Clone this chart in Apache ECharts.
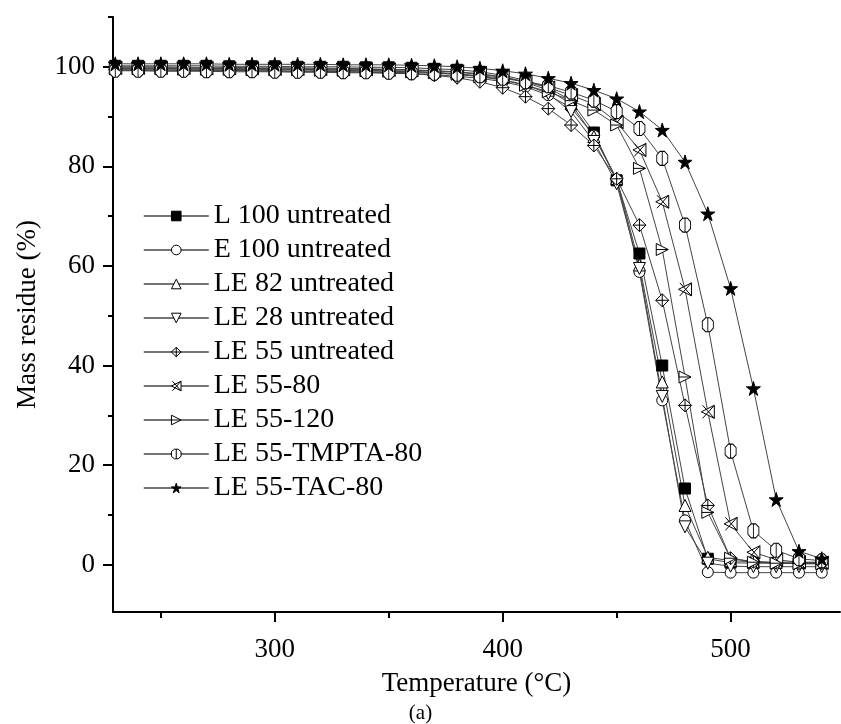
<!DOCTYPE html>
<html><head><meta charset="utf-8">
<script src="https://cdn.jsdelivr.net/npm/echarts@6/dist/echarts.min.js"></script>
<style>html,body{margin:0;padding:0;background:#fff;}#c{width:841px;height:724px;}</style>
</head><body><div id="c"></div>
<script>
const temps = [230,240,250,260,270,280,290,300,310,320,330,340,350,360,370,380,390,400,410,420,430,440,450,460,470,480,490,500,510,520,530,540];
const seriesNames = ['L 100 untreated','E 100 untreated','LE 82 untreated','LE 28 untreated','LE 55 untreated','LE 55-80','LE 55-120','LE 55-TMPTA-80','LE 55-TAC-80'];
const L100 = [100.2,100.2,100.2,100.2,100.2,100.1,100.1,100.1,100.0,100.0,100.0,99.9,99.9,99.8,99.6,99.4,99.0,98.3,97.3,95.8,93.2,86.8,77.2,62.5,40.0,15.3,1.2,0.4,0.3,0.3,0.2,0.2];
const E100 = [99.2,99.2,99.1,99.1,99.1,99.0,99.0,99.0,98.9,98.9,98.8,98.8,98.7,98.6,98.4,98.1,97.7,97.0,96.0,94.3,91.8,86.2,77.3,58.8,33.0,8.9,-1.5,-1.6,-1.6,-1.6,-1.6,-1.6];
const LE82 = [100.0,100.0,100.0,99.9,99.9,99.9,99.8,99.8,99.8,99.7,99.7,99.6,99.5,99.4,99.2,98.9,98.5,97.9,96.9,95.3,92.6,86.0,77.6,60.2,36.7,11.9,1.5,0.8,0.6,0.5,0.5,0.5];
const LE28 = [99.7,99.7,99.7,99.6,99.6,99.6,99.5,99.5,99.5,99.4,99.4,99.3,99.2,99.1,98.9,98.6,98.1,97.4,96.4,94.6,91.0,85.0,76.5,59.5,33.8,7.6,0.3,-0.3,-0.4,-0.4,-0.4,-0.4];
const LE55 = [99.4,99.4,99.4,99.3,99.3,99.3,99.2,99.2,99.1,99.1,99.0,98.9,98.8,98.6,98.3,97.8,97.0,95.8,94.0,91.6,88.3,84.2,77.5,68.2,53.1,32.0,11.9,1.3,0.6,0.4,0.3,0.3];
const LE55_80 = [99.8,99.8,99.8,99.8,99.7,99.7,99.7,99.6,99.6,99.6,99.5,99.5,99.4,99.3,99.2,99.0,98.6,98.0,97.0,95.8,94.3,92.5,88.9,83.3,72.9,55.3,30.7,8.2,2.5,1.0,0.5,0.4];
const LE55_120 = [99.6,99.6,99.6,99.5,99.5,99.5,99.4,99.4,99.4,99.3,99.3,99.2,99.1,99.0,98.8,98.5,98.0,97.3,96.3,95.0,93.2,91.3,88.3,79.6,63.3,37.7,10.5,1.3,0.5,0.3,0.2,0.2];
const TMPTA = [99.3,99.3,99.3,99.3,99.2,99.2,99.2,99.1,99.1,99.1,99.0,99.0,98.9,98.8,98.7,98.5,98.2,97.7,97.0,96.2,94.9,93.3,91.0,87.6,81.6,68.2,48.2,22.8,6.8,2.9,1.2,0.8];
const TAC = [100.6,100.6,100.6,100.6,100.6,100.5,100.5,100.5,100.5,100.5,100.4,100.4,100.4,100.3,100.2,100.0,99.7,99.2,98.6,97.7,96.7,95.3,93.6,91.0,87.3,80.9,70.5,55.5,35.4,13.1,2.7,1.2];
const xMajorTicks = [300,400,500];
const xMinorTicks = [250,350,450];
const yMajorTicks = [0,20,40,60,80,100];
const yMinorTicks = [10,30,50,70,90,110];

const allValues = [L100,E100,LE82,LE28,LE55,LE55_80,LE55_120,TMPTA,TAC];
const symbols = [
  'rect',
  'circle',
  'triangle',
  'path://M0,0 L10,0 L5,9 Z',
  'path://M5,0 L10,5 L5,10 L0,5 Z M5,0 L5,10 M0,5 L10,5',
  'path://M0,5 L10,0 L10,10 Z M1,0 L10,10 M1,10 L10,0',
  'path://M0,0 L10,5 L0,10 Z M0,5 L10,5',
  'path://M3,0 L7,0 L10,3 L10,9 L7,12 L3,12 L0,9 L0,3 Z M5,0 L5,12',
  'path://M50,0 L61,35 L98,35 L68,57 L79,91 L50,70 L21,91 L32,57 L2,35 L39,35 Z'
];
const filled = [true,false,false,false,false,false,false,false,true];
const sizes = [11,11,12,12,13,13,12,[11,14],14];

const font = 'Liberation Serif, Times New Roman, serif';
const series = seriesNames.map((n,i)=>({
  name:n, type:'line',
  data: temps.map((t,j)=>[t, allValues[i][j]]),
  symbol: symbols[i], symbolSize: sizes[i], showAllSymbol:true,
  lineStyle:{color:'#444', width:1},
  itemStyle:{color: filled[i] ? '#000' : '#fff', borderColor:'#000', borderWidth:1},
  emphasis:{disabled:true}, animation:false
}));

const chart = echarts.init(document.getElementById('c'));
chart.setOption({
  backgroundColor:'#fff',
  animation:false,
  grid:{left:113, right:1, top:17, bottom:112, containLabel:false},
  legend:{
    orient:'vertical', left:143, top:201, padding:0,
    itemWidth:65, itemHeight:12, itemGap:4,
    textStyle:{fontFamily:font, fontSize:28, color:'#000', lineHeight:30},
    data: seriesNames.map((n,i)=>({
      name:n,
      itemStyle:{color: filled[i] ? '#000' : '#fff', borderColor:'#000', borderWidth:1},
      lineStyle:{color:'#444', width:1.5}
    }))
  },
  xAxis:[{
    type:'value', min:229, max:548,
    axisLine:{show:true, onZero:false, lineStyle:{color:'#000', width:2}},
    axisTick:{show:true, length:10, lineStyle:{width:2,color:'#000'}, customValues:xMajorTicks},
    axisLabel:{fontFamily:font, fontSize:27, color:'#000', margin:24, customValues:xMajorTicks},
    splitLine:{show:false},
    name:'Temperature (°C)', nameLocation:'middle', nameGap:58,
    nameTextStyle:{fontFamily:font, fontSize:27, color:'#000'}
  },{
    type:'value', min:229, max:548, position:'bottom',
    axisLine:{show:false, onZero:false},
    axisTick:{show:true, length:6, lineStyle:{width:2,color:'#000'}, customValues:xMinorTicks},
    axisLabel:{show:false}, splitLine:{show:false}
  }],
  yAxis:[{
    type:'value', min:-9.5, max:110,
    axisLine:{show:true, onZero:false, lineStyle:{color:'#000', width:2}},
    axisTick:{show:true, length:10, lineStyle:{width:2,color:'#000'}, customValues:yMajorTicks},
    axisLabel:{fontFamily:font, fontSize:27, color:'#000', margin:18, customValues:yMajorTicks},
    splitLine:{show:false},
    name:'Mass residue (%)', nameLocation:'middle', nameGap:72, nameRotate:90,
    nameTextStyle:{fontFamily:font, fontSize:27, color:'#000'}
  },{
    type:'value', min:-9.5, max:110, position:'left',
    axisLine:{show:false, onZero:false},
    axisTick:{show:true, length:5, lineStyle:{width:2,color:'#000'}, customValues:yMinorTicks},
    axisLabel:{show:false}, splitLine:{show:false}
  }],
  graphic:[{type:'text', left:'center', top:703, style:{text:'(a)', font:'21px '+font, fill:'#000'}}],
  series: series
});
</script></body></html>
